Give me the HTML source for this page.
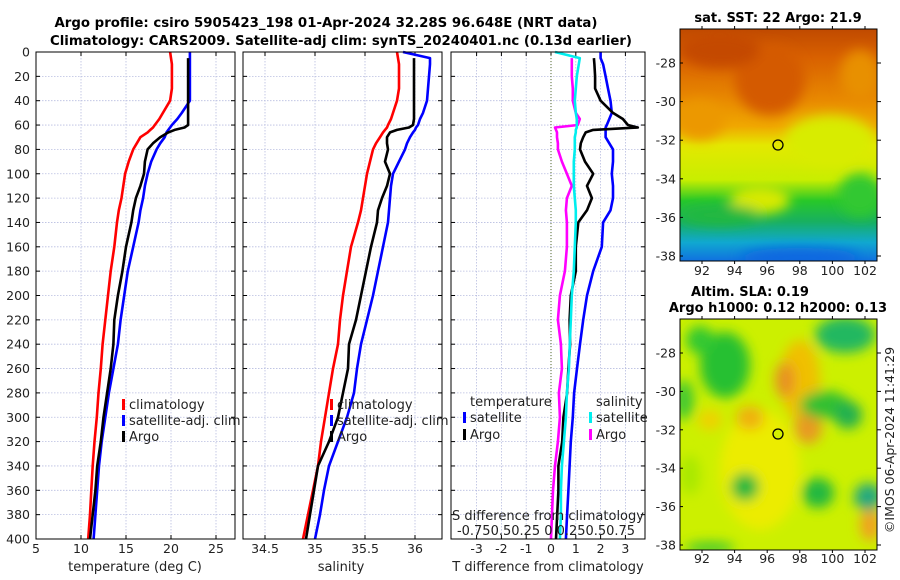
<!DOCTYPE html>
<html><head><meta charset="utf-8"><style>
html,body{margin:0;padding:0;background:#fff;}
svg{display:block;font-family:"DejaVu Sans","Liberation Sans",sans-serif;}
</style></head><body>
<svg id="fig" width="900" height="580" viewBox="0 0 900 580" xmlns="http://www.w3.org/2000/svg">
<defs>
<filter id="blur6" x="-20%" y="-20%" width="140%" height="140%"><feGaussianBlur stdDeviation="6"/></filter>
<clipPath id="clipTop"><rect x="680" y="29" width="197" height="232"/></clipPath>
<clipPath id="clipBot"><rect x="680" y="319" width="197" height="231"/></clipPath>
<linearGradient id="sstGrad" x1="0" y1="0" x2="0" y2="1">
<stop offset="0" stop-color="#c04a00"/><stop offset="0.12" stop-color="#d86000"/>
<stop offset="0.3" stop-color="#e88800"/><stop offset="0.42" stop-color="#f0a800"/>
<stop offset="0.5" stop-color="#e4e800"/><stop offset="0.65" stop-color="#c8ee00"/>
<stop offset="0.74" stop-color="#28c828"/><stop offset="0.83" stop-color="#18b060"/>
<stop offset="0.92" stop-color="#10a8d0"/><stop offset="1" stop-color="#1070e0"/>
</linearGradient>
</defs>
<g id="titles" font-weight="bold" font-size="13" text-anchor="middle" fill="#000">
<text x="326" y="27" textLength="543" lengthAdjust="spacingAndGlyphs">Argo profile: csiro 5905423_198 01-Apr-2024 32.28S 96.648E (NRT data)</text>
<text x="341" y="45" textLength="582" lengthAdjust="spacingAndGlyphs">Climatology: CARS2009. Satellite-adj clim: synTS_20240401.nc (0.13d earlier)</text>
</g>
<g id="plots"></g>
<g id="maps">
<g clip-path="url(#clipTop)">
<rect x="680" y="29" width="197" height="232" fill="url(#sstGrad)"/>
<g filter="url(#blur6)">
<ellipse cx="770" cy="80" rx="35" ry="35" fill="#d45a00"/>
<ellipse cx="720" cy="50" rx="40" ry="18" fill="#c44a00"/>
<ellipse cx="860" cy="75" rx="20" ry="25" fill="#e89000"/>
<ellipse cx="830" cy="140" rx="45" ry="25" fill="#d8ec00"/>
<ellipse cx="700" cy="120" rx="25" ry="20" fill="#ec9800"/>
<ellipse cx="760" cy="200" rx="30" ry="14" fill="#d8ea00"/>
<ellipse cx="860" cy="195" rx="22" ry="22" fill="#30c830"/>
<ellipse cx="720" cy="215" rx="40" ry="10" fill="#20b840"/>
<ellipse cx="800" cy="258" rx="60" ry="10" fill="#1068e0"/>
</g>
<circle cx="778" cy="145" r="5" fill="none" stroke="#000" stroke-width="1.3"/>
</g>
<rect x="680" y="29" width="197" height="232" fill="none" stroke="#000" stroke-width="1"/>
<g clip-path="url(#clipBot)">
<rect x="680" y="319" width="197" height="231" fill="#ccf000"/>
<g filter="url(#blur6)">
<ellipse cx="760" cy="470" rx="40" ry="60" fill="#ecec00"/>
<ellipse cx="800" cy="380" rx="20" ry="40" fill="#f0c000"/>
<ellipse cx="785" cy="380" rx="10" ry="18" fill="#e89020"/>
<ellipse cx="750" cy="418" rx="14" ry="12" fill="#f0b010"/>
<ellipse cx="808" cy="428" rx="14" ry="16" fill="#e89a20"/>
<ellipse cx="710" cy="420" rx="12" ry="10" fill="#f0d000"/>
<ellipse cx="870" cy="525" rx="10" ry="16" fill="#f0a020"/>
<ellipse cx="725" cy="365" rx="25" ry="33" fill="#28c030"/>
<ellipse cx="700" cy="340" rx="14" ry="14" fill="#30c830"/>
<ellipse cx="684" cy="400" rx="10" ry="20" fill="#40c830"/>
<ellipse cx="845" cy="335" rx="30" ry="18" fill="#20b860"/>
<ellipse cx="825" cy="405" rx="25" ry="14" fill="#30c030"/>
<ellipse cx="848" cy="415" rx="14" ry="14" fill="#20b050"/>
<ellipse cx="745" cy="487" rx="14" ry="14" fill="#20b840"/>
<ellipse cx="818" cy="493" rx="16" ry="15" fill="#20b840"/>
<ellipse cx="868" cy="497" rx="14" ry="14" fill="#20a880"/>
<ellipse cx="690" cy="475" rx="10" ry="20" fill="#a8e800"/>
<ellipse cx="710" cy="548" rx="25" ry="6" fill="#40c830"/>
</g>
<circle cx="778" cy="434" r="5" fill="#d4f000" stroke="#000" stroke-width="1.3"/>
</g>
<rect x="680" y="319" width="197" height="231" fill="none" stroke="#000" stroke-width="1"/>
<text x="778" y="22" text-anchor="middle" font-weight="bold" font-size="13">sat. SST: 22 Argo: 21.9</text>
<text x="750" y="296" text-anchor="middle" font-weight="bold" font-size="13">Altim. SLA: 0.19</text>
<text x="778" y="312" text-anchor="middle" font-weight="bold" font-size="13">Argo h1000: 0.12 h2000: 0.13</text>
<text transform="translate(894,440) rotate(-90)" text-anchor="middle" font-size="12.5" fill="#222">©IMOS 06-Apr-2024 11:41:29</text>
</g>
</svg>
<script>
// ---- data ----
const depths = [0,5,10,20,30,40,50,55,60,62,64,66,70,75,80,90,100,110,120,130,140,160,180,200,220,240,260,280,300,320,340,360,380,400];
const climT = [19.9,20.0,20.1,20.1,20.1,19.9,19.1,18.7,18.2,18.0,17.7,17.4,16.6,16.2,15.8,15.3,14.9,14.7,14.5,14.2,14.0,13.7,13.3,13.0,12.7,12.4,12.2,11.95,11.75,11.5,11.3,11.15,11.0,10.8];
const satT = [22.1,22.1,22.1,22.1,22.1,22.1,21.2,20.7,20.1,19.9,19.7,19.5,19.3,18.8,18.4,17.8,17.4,17.1,16.9,16.6,16.4,15.8,15.2,14.8,14.4,14.1,13.6,13.1,12.7,12.3,12.0,11.8,11.6,11.4];
const argoT = [21.9,21.9,21.9,21.9,21.9,21.9,21.9,21.9,21.9,21.5,20.4,19.7,18.8,18.0,17.4,17.1,17.0,16.6,16.1,15.8,15.6,15.0,14.6,14.1,13.7,13.6,13.3,12.9,12.5,12.2,11.8,11.6,11.3,11.0];
const climS = [35.82,35.83,35.84,35.84,35.84,35.82,35.78,35.76,35.73,35.72,35.70,35.68,35.65,35.61,35.58,35.55,35.52,35.50,35.48,35.46,35.43,35.36,35.32,35.28,35.25,35.23,35.18,35.14,35.10,35.06,35.03,34.98,34.93,34.88];
const satS = [35.88,36.15,36.15,36.14,36.13,36.12,36.08,36.05,36.03,36.01,36.0,35.98,35.95,35.92,35.90,35.84,35.78,35.76,35.75,35.74,35.73,35.68,35.63,35.58,35.52,35.46,35.42,35.39,35.32,35.23,35.14,35.09,35.05,35.00];
const argoS = [35.99,35.99,35.99,35.99,35.99,35.99,35.99,35.99,35.98,35.94,35.82,35.75,35.72,35.72,35.73,35.70,35.75,35.72,35.67,35.63,35.62,35.56,35.51,35.46,35.41,35.34,35.33,35.28,35.23,35.14,35.03,34.99,34.95,34.91];
const diffTsat = [2.0,2.0,2.1,2.2,2.3,2.4,2.45,2.35,2.25,2.2,2.2,2.2,2.2,2.35,2.5,2.5,2.45,2.5,2.5,2.4,2.1,2.05,1.7,1.45,1.3,1.17,1.05,0.93,0.88,0.8,0.75,0.7,0.65,0.6];
const diffTargo = [1.73,1.73,1.75,1.78,1.78,2.0,2.5,2.9,3.1,3.5,1.7,1.4,1.3,1.2,1.17,1.37,1.7,1.45,1.65,1.45,1.1,1.0,1.0,0.8,0.75,0.77,0.7,0.65,0.5,0.45,0.3,0.3,0.25,0.2];
const diffSsat = [0.04,0.29,0.28,0.26,0.25,0.24,0.25,0.26,0.26,0.26,0.25,0.25,0.24,0.24,0.24,0.23,0.23,0.23,0.24,0.25,0.25,0.24,0.23,0.21,0.2,0.19,0.18,0.16,0.15,0.13,0.11,0.1,0.1,0.09];
const diffSargo = [0.21,0.21,0.21,0.21,0.22,0.22,0.25,0.29,0.27,0.04,0.05,0.06,0.06,0.07,0.07,0.11,0.16,0.21,0.16,0.15,0.16,0.16,0.14,0.09,0.07,0.1,0.11,0.08,0.09,0.07,0.04,0.02,0.01,0.0];
const depthTicks = [0,20,40,60,80,100,120,140,160,180,200,220,240,260,280,300,320,340,360,380,400];
const tTicks = [5,10,15,20,25];
const sTicks = [34.5,35,35.5,36];
const dTicks = [-3,-2,-1,0,1,2,3];
const latTicks = [-28,-30,-32,-34,-36,-38];
const lonTicks = [92,94,96,98,100,102];

const NS='http://www.w3.org/2000/svg';
const root=document.getElementById('plots');
function mk(tag,attrs,parent){const e=document.createElementNS(NS,tag);for(const k in attrs)e.setAttribute(k,attrs[k]);(parent||root).appendChild(e);return e;}
const Y0=52,Y1=539;
const yD=d=>Y0+d*(Y1-Y0)/400;
const xT=t=>36+(t-5)*9;
const xS=s=>243+(s-34.28)*100;
const xDT=v=>551+v*24.8;
const xDS=v=>551+v*99.2;
const panels=[{x0:36,x1:235,name:'temperature-panel'},{x0:243,x1:442,name:'salinity-panel'},{x0:451,x1:645,name:'difference-panel'}];

function drawPanel(p,ticks,xf,labels){
  const g=mk('g',{});
  
  
  mk('rect',{x:p.x0,y:Y0,width:p.x1-p.x0,height:Y1-Y0,fill:'#fff'},g);
  depthTicks.forEach(d=>{
    const l=mk('line',{x1:p.x0,x2:p.x1,y1:yD(d),y2:yD(d),stroke:'#b8bde0','stroke-width':0.8,'stroke-dasharray':'1.5,1.5'},g);
    
    
    mk('line',{x1:p.x0,x2:p.x0+4,y1:yD(d),y2:yD(d),stroke:'#000'},g);
    mk('line',{x1:p.x1-4,x2:p.x1,y1:yD(d),y2:yD(d),stroke:'#000'},g);
  });
  ticks.forEach(t=>{
    const x=xf(t);
    const l=mk('line',{x1:x,x2:x,y1:Y0,y2:Y1,stroke:'#b8bde0','stroke-width':0.8,'stroke-dasharray':'1.5,1.5'},g);
    
    
    mk('line',{x1:x,x2:x,y1:Y1-4,y2:Y1,stroke:'#000'},g);
    mk('line',{x1:x,x2:x,y1:Y0,y2:Y0+4,stroke:'#000'},g);
    if(labels){
      const tx=mk('text',{x:x,y:553,'text-anchor':'middle','font-size':12.5,fill:'#222'},g);
      
      
      tx.textContent=String(t);
    }
  });
  return g;
}
function line(g,xs,ds,xf,color,name,startIdx){
  let pts=[];
  for(let i=startIdx||0;i<ds.length;i++)pts.push(xf(xs[i]).toFixed(1)+','+yD(ds[i]).toFixed(1));
  const pl=mk('polyline',{points:pts.join(' '),fill:'none',stroke:color,'stroke-width':2.6,'stroke-linejoin':'round'},g);
  
  
}
function frame(p,g){mk('rect',{x:p.x0,y:Y0,width:p.x1-p.x0,height:Y1-Y0,fill:'none',stroke:'#000','stroke-width':1},g);}
function legend(g,x,y,color,label,name){
  mk('rect',{x:x-2,y:y-10,width:3,height:11,fill:color},g);
  const t=mk('text',{x:x+5,y:y,'font-size':13,fill:'#222'},g);
  
  
  t.textContent=label;
}

// panel 1
const g1=drawPanel(panels[0],tTicks,xT,true);
line(g1,climT,depths,xT,'#ff0000','climatology-temperature-line');
line(g1,satT,depths,xT,'#0000ff','satellite-temperature-line');
line(g1,argoT,depths,xT,'#000000','argo-temperature-line',1);
frame(panels[0],g1);
legend(g1,124,409,'#ff0000','climatology','legend-climatology');
legend(g1,124,425,'#0000ff','satellite-adj. clim','legend-satellite');
legend(g1,124,441,'#000000','Argo','legend-argo');
depthTicks.forEach(d=>{
  const t=mk('text',{x:30,y:yD(d)+4.5,'text-anchor':'end','font-size':12.5,fill:'#222'});
  
  
  t.textContent=String(d);
});
// panel 2
const g2=drawPanel(panels[1],sTicks,xS,true);
line(g2,climS,depths,xS,'#ff0000','climatology-salinity-line');
line(g2,satS,depths,xS,'#0000ff','satellite-salinity-line');
line(g2,argoS,depths,xS,'#000000','argo-salinity-line',1);
frame(panels[1],g2);
legend(g2,332,409,'#ff0000','climatology','legend-climatology');
legend(g2,332,425,'#0000ff','satellite-adj. clim','legend-satellite');
legend(g2,332,441,'#000000','Argo','legend-argo');
// panel 3
const g3=drawPanel(panels[2],dTicks,xDT,true);
mk('line',{x1:xDT(0),x2:xDT(0),y1:Y0,y2:Y1,stroke:'#556b2f','stroke-width':1,'stroke-dasharray':'1,2'},g3);
line(g3,diffTsat,depths,xDT,'#0000ff','satellite-temperature-difference-line');
line(g3,diffTargo,depths,xDT,'#000000','argo-temperature-difference-line',1);
line(g3,diffSargo,depths,xDS,'#ff00ff','argo-salinity-difference-line',1);
line(g3,diffSsat,depths,xDS,'#00eeee','satellite-salinity-difference-line');
frame(panels[2],g3);
[['temperature',470,406,'legend-temperature-heading'],['salinity',596,406,'legend-salinity-heading']].forEach(a=>{
  const t=mk('text',{x:a[1],y:a[2],'font-size':13,fill:'#222'},g3);
  
  
  t.textContent=a[0];
});
legend(g3,465,422,'#0000ff','satellite','legend-temperature-satellite');
legend(g3,465,439,'#000000','Argo','legend-temperature-argo');
legend(g3,591,422,'#00eeee','satellite','legend-salinity-satellite');
legend(g3,591,439,'#ff00ff','Argo','legend-salinity-argo');
const st=mk('text',{x:548,y:520,'text-anchor':'middle','font-size':13,fill:'#222',textLength:192,lengthAdjust:'spacingAndGlyphs'},g3);


st.textContent='S difference from climatology';
const sl=mk('text',{x:457,y:535,'font-size':13,fill:'#222',textLength:178,lengthAdjust:'spacing'},g3);


sl.textContent='-0.750.50.25 0 0.250.50.75';

// x-axis titles
[['temperature (deg C)',135,'x-axis-title-temperature'],['salinity',341,'x-axis-title-salinity'],['T difference from climatology',548,'x-axis-title-difference']].forEach(a=>{
  const t=mk('text',{x:a[1],y:571,'text-anchor':'middle','font-size':13,fill:'#222'});
  
  
  t.textContent=a[0];
});

// map ticks
const xLon=l=>702+(l-92)*16.3;
const yLatTop=l=>63+(-28-l)*19.3;
const yLatBot=l=>353+(-28-l)*19.2;
const maps=document.getElementById('maps');
[[yLatTop,275,29,261],[yLatBot,563,319,550]].forEach(m=>{
  latTicks.forEach(l=>{
    const y=m[0](l);
    mk('line',{x1:877,x2:881,y1:y,y2:y,stroke:'#000'},maps);
    mk('line',{x1:680,x2:683,y1:y,y2:y,stroke:'#000'},maps);
    const t=mk('text',{x:676,y:y+4.5,'text-anchor':'end','font-size':12.5,fill:'#222'},maps);
    
    
    t.textContent=String(l);
  });
  lonTicks.forEach(l=>{
    const x=xLon(l);
    mk('line',{x1:x,x2:x,y1:m[3],y2:m[3]+3,stroke:'#000'},maps);
    mk('line',{x1:x,x2:x,y1:m[2]-3,y2:m[2],stroke:'#000'},maps);
    const t=mk('text',{x:x,y:m[1],'text-anchor':'middle','font-size':12.5,fill:'#222'},maps);
    
    
    t.textContent=String(l);
  });
});
</script>
</body></html>
